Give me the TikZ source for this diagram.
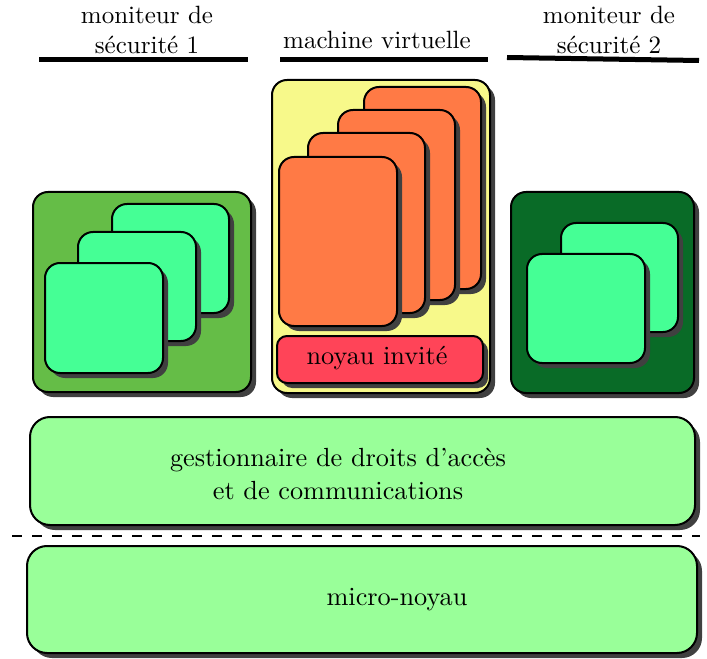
\documentclass[tikz,border=0pt]{standalone}
\usetikzlibrary{shadows}
\definecolor{shadowgray}{HTML}{404040}
\definecolor{midgreen}{HTML}{65BD47}
\definecolor{darkgreen}{HTML}{096B27}
\definecolor{mint}{HTML}{45FF95}
\definecolor{paleyellow}{HTML}{F7F98A}
\definecolor{carrot}{HTML}{FF7A45}
\definecolor{redbox}{HTML}{FF4458}
\definecolor{lightgreen}{HTML}{99FF99}
\tikzset{
  box/.style={draw=black, line width=0.8pt, inner sep=0pt, outer sep=0pt,
    drop shadow={shadow xshift=2pt, shadow yshift=-2pt, fill=shadowgray, opacity=1}},
  small/.style={box, rounded corners=6pt},
  big/.style={box, rounded corners=8pt},
  bar/.style={line width=2pt},
  label/.style={align=center, inner sep=0pt, font=\normalsize},
  inlabel/.style={align=center, inner sep=0pt, font=\fontsize{10.5pt}{13pt}\selectfont},
}
% name, style, x1, y1, x2, y2, text
\newcommand\rbox[7]{%
  \node[#2, minimum width={(#5-#3)*0.4pt}, minimum height={(#6-#4)*0.4pt}]
    (#1) at ({(#3+#5)/2},{(#4+#6)/2}) {#7};}
\begin{document}
\begin{tikzpicture}[x=0.4pt, y=-0.4pt]
\useasboundingbox (0,0) rectangle (707,659);

% top labels
\node[label] (t1) at (147,30) {moniteur de\\sécurité 1};
\node[label] (t2) at (377,40) {machine virtuelle};
\node[label] (t3) at (609,30) {moniteur de\\sécurité 2};
\coordinate (b1a) at (39,59.5);  \coordinate (b1b) at (248,59.5);
\coordinate (b2a) at (280,59.5); \coordinate (b2b) at (488,59.5);
\coordinate (b3a) at (507,57.5); \coordinate (b3b) at (699,60.5);
\draw[bar] (b1a) -- (b1b);
\draw[bar] (b2a) -- (b2b);
\draw[bar] (b3a) -- (b3b);

% security monitor 1
\rbox{m1}{small, fill=midgreen}{33}{192}{251}{392}{}
\rbox{m1c}{small, fill=mint}{112}{204}{229}{313}{}
\rbox{m1b}{small, fill=mint}{78}{232}{196}{341}{}
\rbox{m1a}{small, fill=mint}{45}{263}{163}{373}{}

% virtual machine
\rbox{vm}{small, fill=paleyellow}{272}{80}{490}{393}{}
\rbox{vmd}{small, fill=carrot}{364}{87}{481}{289}{}
\rbox{vmc}{small, fill=carrot}{338}{110}{455}{300}{}
\rbox{vmb}{small, fill=carrot}{308}{133}{425}{313}{}
\rbox{vma}{small, fill=carrot}{279}{157}{397}{326}{}
\rbox{ni}{box, rounded corners=4pt, fill=redbox}{277}{336}{483}{383}{}
\node[inlabel] (nit) at (377,358) {noyau invité};

% security monitor 2
\rbox{m2}{small, fill=darkgreen}{511}{192}{694}{393}{}
\rbox{m2b}{small, fill=mint}{561}{223}{678}{332}{}
\rbox{m2a}{small, fill=mint}{527}{254}{645}{363}{}

% bottom layers
\rbox{gest}{big, fill=lightgreen}{30}{417}{695}{525}{}
\node[inlabel] (gestt) at (338,474) {gestionnaire de droits d’accès\\et de communications};
\coordinate (da) at (12,536);
\coordinate (db) at (700,536);
\draw[line width=0.8pt, dash pattern=on 4pt off 4pt] (da) -- (db);
\rbox{micro}{big, fill=lightgreen}{27}{546}{697}{653}{}
\node[inlabel] (microt) at (397,600) {micro-noyau};
\end{tikzpicture}
\end{document}
